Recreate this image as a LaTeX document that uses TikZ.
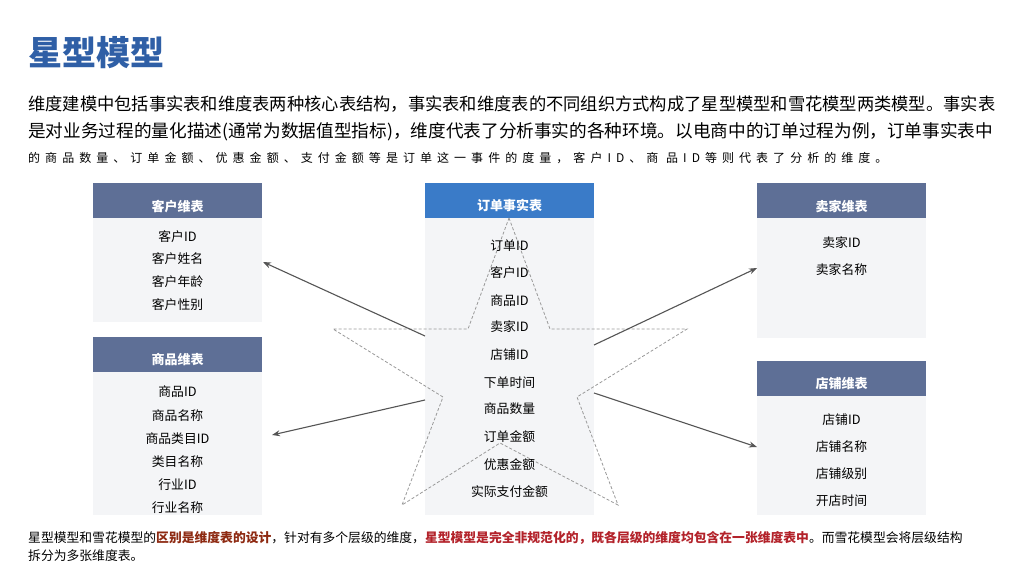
\documentclass[tikz,border=0pt]{standalone}
\usepackage{fontspec}
\setmainfont{Noto Sans CJK SC}
\usetikzlibrary{arrows.meta}
\definecolor{titleblue}{HTML}{2F5FA6}
\definecolor{hdrslate}{HTML}{5E6F96}
\definecolor{hdrblue}{HTML}{3A7BC8}
\definecolor{bodygray}{HTML}{F4F5F7}
\definecolor{arrowgray}{HTML}{555555}
\definecolor{darkred}{HTML}{8E2A12}
\definecolor{brightred}{HTML}{B3222A}
\tikzset{
  hdr/.style={fill=hdrslate, minimum width=169pt, minimum height=35pt, inner sep=0pt, anchor=north west},
  hdrc/.style={hdr, fill=hdrblue},
  hdrtext/.style={text=white, font=\fontsize{13}{13}\selectfont\bfseries, inner sep=0pt},
  body/.style={fill=bodygray, draw=none, minimum width=169pt, inner sep=0pt, anchor=north west},
  item/.style={font=\fontsize{12.8}{12.8}\selectfont, inner sep=0pt},
  conn/.style={draw=arrowgray, line width=1.1pt, -{Stealth[length=8pt,width=6pt]}},
  para/.style={anchor=west, inner sep=0pt},
}
\begin{document}
\begin{tikzpicture}[x=1pt,y=-1pt]
\useasboundingbox (0,0) rectangle (1024,575);
\fill[white] (0,0) rectangle (1024,575);
% title
\node[anchor=west, inner sep=0pt, text=titleblue, font=\fontsize{34}{34}\selectfont\bfseries] (title) at (28,53) {星型模型};
% paragraph
\node[para, font=\fontsize{17.27}{17}\selectfont] (p1) at (28,104) {维度建模中包括事实表和维度表两种核心表结构，事实表和维度表的不同组织方式构成了星型模型和雪花模型两类模型。事实表};
\node[para, font=\fontsize{17.65}{17}\selectfont] (p2) at (28,132) {是对业务过程的量化描述(通常为数据值型指标)，维度代表了分析事实的各种环境。以电商中的订单过程为例，订单事实表中};
\node[para, font=\fontsize{12}{12}\selectfont\addfontfeature{LetterSpace=42}] (p3) at (28,158) {的商品数量、订单金额、优惠金额、支付金额等是订单这一事件的度量，客户ID、商 品ID等则代表了分析的维度。};
% bodies
\node[body, minimum height=104pt] (b1) at (93,218) {};
\node[body, minimum height=144pt] (b2) at (93,371) {};
\node[body, minimum height=297pt] (bc) at (425,218) {};
\node[body, minimum height=120pt] (b3) at (757,218) {};
\node[body, minimum height=119pt] (b4) at (757,396) {};
% headers
\node[hdr] (h1) at (93,183) {};
\node[hdr] (h2) at (93,337) {};
\node[hdrc] (hc) at (425,183) {};
\node[hdr] (h3) at (757,183) {};
\node[hdr] (h4) at (757,361) {};
\node[hdrtext] (h1t) at (177.5,207) {客户维表};
\node[hdrtext] (h2t) at (177.5,360) {商品维表};
\node[hdrtext] (hct) at (509.5,205) {订单事实表};
\node[hdrtext] (h3t) at (841.5,207) {卖家维表};
\node[hdrtext] (h4t) at (841.5,384) {店铺维表};
% star
\coordinate (s1) at (509,218);
\coordinate (s2) at (550,329);
\coordinate (s3) at (687,329);
\coordinate (s4) at (577,397);
\coordinate (s5) at (618,505);
\coordinate (s6) at (500,443);
\coordinate (s7) at (402,505);
\coordinate (s8) at (443,397);
\coordinate (s9) at (333,329);
\coordinate (s10) at (468,329);
\draw[gray!80, dash pattern=on 3pt off 2pt, line width=0.8pt] (s1)--(s2)--(s3)--(s4)--(s5)--(s6)--(s7)--(s8)--(s9)--(s10)--cycle;
% items
\foreach \t/\y [count=\i] in {客户ID/237,客户姓名/259,客户年龄/282,客户性别/305}
  \node[item] (c\i) at (177.5,\y) {\t};
\foreach \t/\y [count=\i] in {商品ID/392,商品名称/416,商品类目ID/439,类目名称/462,行业ID/485,行业名称/508}
  \node[item] (g\i) at (177.5,\y) {\t};
\foreach \t/\y [count=\i] in {订单ID/246,客户ID/273,商品ID/301,卖家ID/327,店铺ID/355,下单时间/383,商品数量/409,订单金额/437,优惠金额/465,实际支付金额/492}
  \node[item] (f\i) at (509.5,\y) {\t};
\foreach \t/\y [count=\i] in {卖家ID/243,卖家名称/270}
  \node[item] (m\i) at (841.5,\y) {\t};
\foreach \t/\y [count=\i] in {店铺ID/420,店铺名称/447,店铺级别/474,开店时间/501}
  \node[item] (d\i) at (841.5,\y) {\t};
% connectors
\coordinate (a1s) at (425,336);
\coordinate (a1e) at (263,262);
\coordinate (a2s) at (425,400);
\coordinate (a2e) at (272,435);
\coordinate (a3s) at (594,345);
\coordinate (a3e) at (757,268);
\coordinate (a4s) at (594,393);
\coordinate (a4e) at (757,447);
\draw[conn] (a1s) -- (a1e);
\draw[conn] (a2s) -- (a2e);
\draw[conn] (a3s) -- (a3e);
\draw[conn] (a4s) -- (a4e);
% bottom text
\node[anchor=west, inner sep=0pt, font=\fontsize{12.8}{12.8}\selectfont] (n1) at (28,538) {星型模型和雪花模型的{\bfseries\color{darkred}区别是维度表的设计}，针对有多个层级的维度，{\bfseries\color{brightred}星型模型是完全非规范化的，既各层级的维度均包含在一张维度表中}。而雪花模型会将层级结构};
\node[anchor=west, inner sep=0pt, font=\fontsize{12.8}{12.8}\selectfont] (n2) at (28,556) {拆分为多张维度表。};
\end{tikzpicture}
\end{document}
